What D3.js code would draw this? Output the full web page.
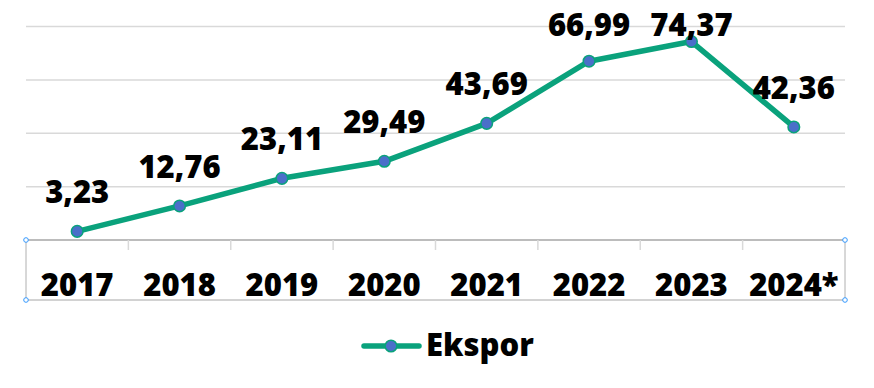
<!DOCTYPE html>
<html><head><meta charset="utf-8">
<script src="https://cdn.jsdelivr.net/npm/d3@7"></script>
<style>body{margin:0;background:#fff}svg{display:block}</style>
</head><body>
<script>
const categories = ["2017","2018","2019","2020","2021","2022","2023","2024*"];
const valueLabels = ["3,23","12,76","23,11","29,49","43,69","66,99","74,37","42,36"];
const values = [3.23,12.76,23.11,29.49,43.69,66.99,74.37,42.36];
const yTicks = [0,20,40,60,80];
const seriesName = "Ekspor";

const W=874,H=388;
const svg=d3.select("body").append("svg").attr("width",W).attr("height",H);
const x=d3.scaleBand().domain(categories).range([26,845]);
const y=d3.scaleLinear().domain([0,80]).range([240,26.5]);
const font="'Open Sans', 'DejaVu Sans', sans-serif";
const green="#0aa27c", blue="#4a6fc9";

// gridlines
svg.append("g").selectAll("line").data(yTicks.filter(d=>d>0)).join("line")
  .attr("x1",26).attr("x2",845).attr("y1",d=>y(d)).attr("y2",d=>y(d))
  .attr("stroke","#d9d9d9").attr("stroke-width",1.5);

// axis box
const box=svg.append("g");
box.append("line").attr("x1",26).attr("x2",845).attr("y1",y(0)).attr("y2",y(0)).attr("stroke","#a6a6a6").attr("stroke-width",1.5);
box.append("line").attr("x1",26).attr("x2",845).attr("y1",300).attr("y2",300).attr("stroke","#a6a6a6").attr("stroke-width",1);
box.append("line").attr("x1",26).attr("x2",26).attr("y1",240).attr("y2",300).attr("stroke","#b0b0b0").attr("stroke-width",1);
box.append("line").attr("x1",845).attr("x2",845).attr("y1",240).attr("y2",300).attr("stroke","#b0b0b0").attr("stroke-width",1);
box.selectAll(".tk").data(categories.slice(1)).join("line").attr("class","tk")
  .attr("x1",d=>x(d)).attr("x2",d=>x(d)).attr("y1",240).attr("y2",250)
  .attr("stroke","#d9d9d9").attr("stroke-width",1.5);
[[26,240],[26,300],[845,240],[845,300]].forEach(p=>{
  box.append("circle").attr("cx",p[0]).attr("cy",p[1]).attr("r",2.3).attr("fill","#fff").attr("stroke","#3399ff").attr("stroke-width",1);
});

// category labels
svg.append("g").selectAll("text").data(categories).join("text")
  .attr("x",d=>x(d)+x.bandwidth()/2).attr("y",296)
  .attr("text-anchor","middle").attr("font-family",font).attr("font-weight",800)
  .attr("font-size",31).attr("fill","#000").text(d=>d);

// line
const cx=(d,i)=>x(categories[i])+x.bandwidth()/2;
svg.append("path").datum(values)
  .attr("d",d3.line().x((d,i)=>cx(d,i)).y(d=>y(d)))
  .attr("fill","none").attr("stroke",green).attr("stroke-width",5.5).attr("stroke-linejoin","round");
svg.append("g").selectAll("circle").data(values).join("circle")
  .attr("cx",(d,i)=>cx(d,i)).attr("cy",d=>y(d)).attr("r",5.8)
  .attr("fill",blue).attr("stroke",green).attr("stroke-width",1.5);

// value labels
svg.append("g").selectAll("text").data(values).join("text")
  .attr("x",(d,i)=>cx(d,i)).attr("y",d=>Math.max(y(d)-28,36))
  .attr("text-anchor","middle").attr("font-family",font).attr("font-weight",800)
  .attr("font-size",31).attr("fill","#000").text((d,i)=>valueLabels[i]);

// legend
const lg=svg.append("g");
lg.append("line").attr("x1",364).attr("x2",419).attr("y1",346).attr("y2",346)
  .attr("stroke",green).attr("stroke-width",5.5).attr("stroke-linecap","round");
lg.append("circle").attr("cx",391).attr("cy",346).attr("r",5.8).attr("fill",blue).attr("stroke",green).attr("stroke-width",1.5);
lg.append("text").attr("x",426).attr("y",356).attr("font-family",font).attr("font-weight",800)
  .attr("font-size",31).attr("fill","#000").text(seriesName);
</script>
</body></html>
